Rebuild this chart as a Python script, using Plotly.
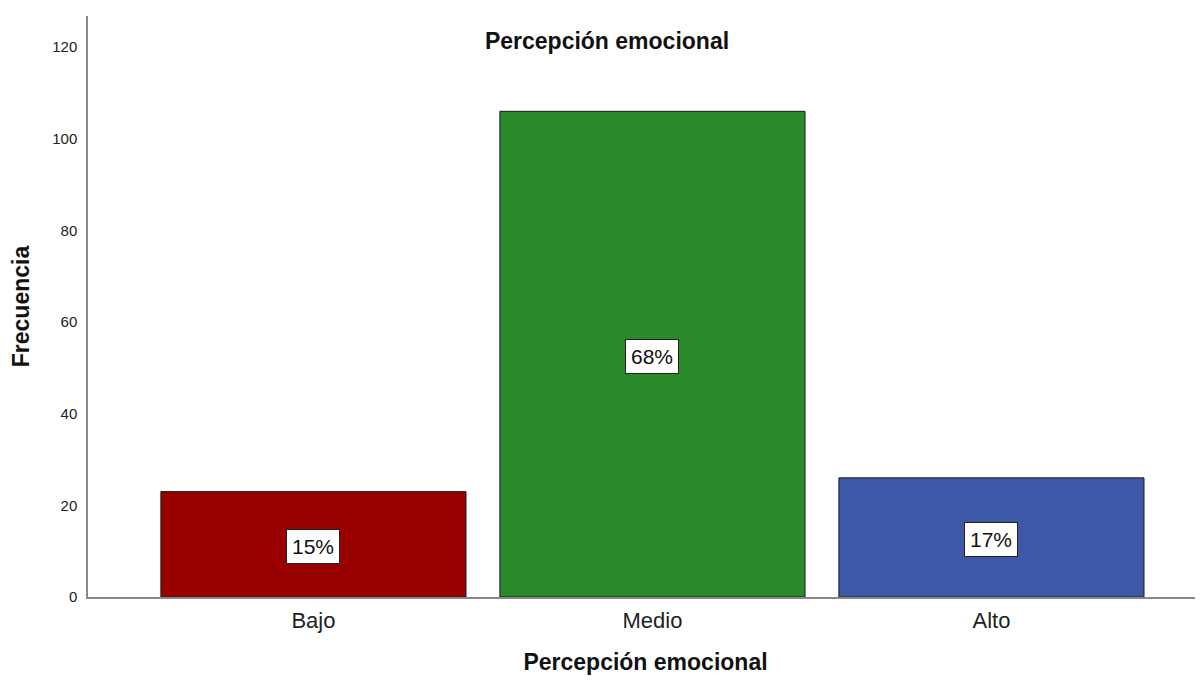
import plotly.graph_objects as go

categories = ["Bajo", "Medio", "Alto"]
frequencies = [23, 106, 26]
percent_labels = ["15%", "68%", "17%"]
bar_colors = ["#990000", "#2a8a2a", "#3e58a8"]
y_ticks = [0, 20, 40, 60, 80, 100, 120]

FONT = "Arial, Liberation Sans, sans-serif"

fig = go.Figure()
fig.add_trace(go.Bar(
    x=categories, y=frequencies, width=0.9,
    marker=dict(color=bar_colors, line=dict(color="#1a1a1a", width=1)),
    showlegend=False, hoverinfo="x+y",
))

for c, v, t in zip(categories, frequencies, percent_labels):
    fig.add_annotation(
        x=c, y=v / 2, text=t, showarrow=False, yshift=-2,
        font=dict(family=FONT, size=21, color="#111111"),
        bgcolor="white", bordercolor="#222222", borderwidth=1, borderpad=5,
    )

fig.update_layout(
    width=1195, height=672,
    margin=dict(l=80, r=0, t=8, b=83),
    paper_bgcolor="white", plot_bgcolor="white",
    title=dict(text="<b>Percepción emocional</b>", x=599 / 1195, xref="container", xanchor="center",
               y=1 - 33 / 672, yref="container", yanchor="middle",
               font=dict(family=FONT, size=23, color="#111111")),
    font=dict(family=FONT, color="#222222"),
)

fig.update_xaxes(
    range=[-0.665, 2.624],
    showline=True, linecolor="#888888", linewidth=1.5,
    showgrid=False, ticks="",
    tickfont=dict(family=FONT, size=22, color="#222222"),
    ticklabelstandoff=3,
    title=dict(text="<b>Percepción emocional</b>", standoff=22,
               font=dict(family=FONT, size=23, color="#111111")),
)
fig.update_yaxes(
    range=[0, 126.8], tickvals=y_ticks,
    showline=True, linecolor="#888888", linewidth=1.5,
    showgrid=False, ticks="", zeroline=False,
    tickfont=dict(family=FONT, size=15, color="#222222"),
    ticklabelstandoff=6,
    title=dict(text="<b>Frecuencia</b>", standoff=19,
               font=dict(family=FONT, size=23, color="#111111")),
)

fig.write_html("out.html")
